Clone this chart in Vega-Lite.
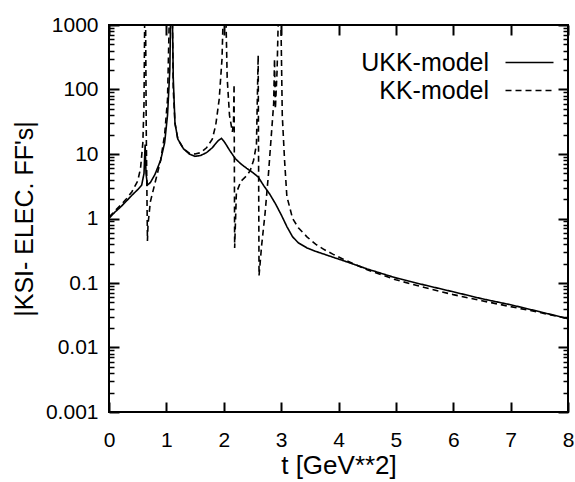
{
  "$schema": "https://vega.github.io/schema/vega-lite/v6.json",
  "width": 459,
  "height": 387,
  "autosize": "none",
  "padding": {"left": 109, "top": 25, "right": 7, "bottom": 70},
  "background": "white",
  "config": {
    "font": "Liberation Sans",
    "view": {"stroke": "black", "strokeWidth": 2},
    "axis": {"grid": false, "domain": false, "labelColor": "black", "titleColor": "black", "labelFont": "Liberation Sans", "titleFont": "Liberation Sans", "titleFontWeight": "normal"}
  },
  "data": {"values": [
    {"model": "UKK-model", "t": 0.0, "ff": 1.0},
    {"model": "UKK-model", "t": 0.1, "ff": 1.25},
    {"model": "UKK-model", "t": 0.2, "ff": 1.5},
    {"model": "UKK-model", "t": 0.3, "ff": 1.85},
    {"model": "UKK-model", "t": 0.4, "ff": 2.3},
    {"model": "UKK-model", "t": 0.5, "ff": 2.8},
    {"model": "UKK-model", "t": 0.57, "ff": 3.3},
    {"model": "UKK-model", "t": 0.61, "ff": 5},
    {"model": "UKK-model", "t": 0.63, "ff": 14},
    {"model": "UKK-model", "t": 0.645, "ff": 5},
    {"model": "UKK-model", "t": 0.67, "ff": 3.3},
    {"model": "UKK-model", "t": 0.72, "ff": 3.6},
    {"model": "UKK-model", "t": 0.8, "ff": 4.8},
    {"model": "UKK-model", "t": 0.9, "ff": 8},
    {"model": "UKK-model", "t": 0.97, "ff": 15},
    {"model": "UKK-model", "t": 1.02, "ff": 40},
    {"model": "UKK-model", "t": 1.06, "ff": 200},
    {"model": "UKK-model", "t": 1.08, "ff": 3000},
    {"model": "UKK-model", "t": 1.1, "ff": 3000},
    {"model": "UKK-model", "t": 1.12, "ff": 150},
    {"model": "UKK-model", "t": 1.15, "ff": 30},
    {"model": "UKK-model", "t": 1.2, "ff": 17},
    {"model": "UKK-model", "t": 1.3, "ff": 12},
    {"model": "UKK-model", "t": 1.4, "ff": 10},
    {"model": "UKK-model", "t": 1.5, "ff": 9.2},
    {"model": "UKK-model", "t": 1.6, "ff": 9.5},
    {"model": "UKK-model", "t": 1.7, "ff": 10.5},
    {"model": "UKK-model", "t": 1.8, "ff": 12.5},
    {"model": "UKK-model", "t": 1.9, "ff": 16},
    {"model": "UKK-model", "t": 1.96, "ff": 17.5},
    {"model": "UKK-model", "t": 2.02, "ff": 15},
    {"model": "UKK-model", "t": 2.1, "ff": 11.5},
    {"model": "UKK-model", "t": 2.2, "ff": 8.5},
    {"model": "UKK-model", "t": 2.3, "ff": 7},
    {"model": "UKK-model", "t": 2.4, "ff": 6},
    {"model": "UKK-model", "t": 2.5, "ff": 5.2},
    {"model": "UKK-model", "t": 2.6, "ff": 4.4},
    {"model": "UKK-model", "t": 2.7, "ff": 3.2},
    {"model": "UKK-model", "t": 2.8, "ff": 2.4},
    {"model": "UKK-model", "t": 2.9, "ff": 1.7},
    {"model": "UKK-model", "t": 3.0, "ff": 1.15},
    {"model": "UKK-model", "t": 3.1, "ff": 0.75},
    {"model": "UKK-model", "t": 3.2, "ff": 0.52},
    {"model": "UKK-model", "t": 3.3, "ff": 0.42},
    {"model": "UKK-model", "t": 3.45, "ff": 0.35},
    {"model": "UKK-model", "t": 3.6, "ff": 0.31},
    {"model": "UKK-model", "t": 3.8, "ff": 0.27},
    {"model": "UKK-model", "t": 4.0, "ff": 0.235},
    {"model": "UKK-model", "t": 4.2, "ff": 0.205},
    {"model": "UKK-model", "t": 4.5, "ff": 0.165},
    {"model": "UKK-model", "t": 5.0, "ff": 0.12},
    {"model": "UKK-model", "t": 5.5, "ff": 0.093},
    {"model": "UKK-model", "t": 6.0, "ff": 0.073},
    {"model": "UKK-model", "t": 6.5, "ff": 0.057},
    {"model": "UKK-model", "t": 7.0, "ff": 0.046},
    {"model": "UKK-model", "t": 7.5, "ff": 0.036},
    {"model": "UKK-model", "t": 8.0, "ff": 0.028},
    {"model": "KK-model", "t": 0.0, "ff": 1.05},
    {"model": "KK-model", "t": 0.1, "ff": 1.3},
    {"model": "KK-model", "t": 0.2, "ff": 1.6},
    {"model": "KK-model", "t": 0.3, "ff": 2.0},
    {"model": "KK-model", "t": 0.4, "ff": 2.6},
    {"model": "KK-model", "t": 0.5, "ff": 3.8},
    {"model": "KK-model", "t": 0.55, "ff": 6},
    {"model": "KK-model", "t": 0.59, "ff": 15},
    {"model": "KK-model", "t": 0.61, "ff": 60},
    {"model": "KK-model", "t": 0.625, "ff": 3000},
    {"model": "KK-model", "t": 0.635, "ff": 3000},
    {"model": "KK-model", "t": 0.65, "ff": 20},
    {"model": "KK-model", "t": 0.66, "ff": 3},
    {"model": "KK-model", "t": 0.67, "ff": 0.45},
    {"model": "KK-model", "t": 0.68, "ff": 0.8},
    {"model": "KK-model", "t": 0.72, "ff": 1.8},
    {"model": "KK-model", "t": 0.8, "ff": 3.5},
    {"model": "KK-model", "t": 0.9, "ff": 8},
    {"model": "KK-model", "t": 0.97, "ff": 20},
    {"model": "KK-model", "t": 1.02, "ff": 70},
    {"model": "KK-model", "t": 1.06, "ff": 3000},
    {"model": "KK-model", "t": 1.1, "ff": 3000},
    {"model": "KK-model", "t": 1.12, "ff": 100},
    {"model": "KK-model", "t": 1.15, "ff": 30},
    {"model": "KK-model", "t": 1.2, "ff": 17},
    {"model": "KK-model", "t": 1.3, "ff": 12},
    {"model": "KK-model", "t": 1.4, "ff": 10.3},
    {"model": "KK-model", "t": 1.5, "ff": 10},
    {"model": "KK-model", "t": 1.6, "ff": 10.5},
    {"model": "KK-model", "t": 1.7, "ff": 12.5},
    {"model": "KK-model", "t": 1.8, "ff": 17},
    {"model": "KK-model", "t": 1.86, "ff": 28},
    {"model": "KK-model", "t": 1.92, "ff": 70},
    {"model": "KK-model", "t": 1.97, "ff": 300},
    {"model": "KK-model", "t": 2.0, "ff": 3000},
    {"model": "KK-model", "t": 2.03, "ff": 3000},
    {"model": "KK-model", "t": 2.06, "ff": 150},
    {"model": "KK-model", "t": 2.1, "ff": 40},
    {"model": "KK-model", "t": 2.15, "ff": 22},
    {"model": "KK-model", "t": 2.17, "ff": 30},
    {"model": "KK-model", "t": 2.18, "ff": 120},
    {"model": "KK-model", "t": 2.19, "ff": 0.35},
    {"model": "KK-model", "t": 2.22, "ff": 2.5},
    {"model": "KK-model", "t": 2.3, "ff": 3.8},
    {"model": "KK-model", "t": 2.4, "ff": 4.6},
    {"model": "KK-model", "t": 2.46, "ff": 5.5},
    {"model": "KK-model", "t": 2.52, "ff": 8},
    {"model": "KK-model", "t": 2.57, "ff": 14},
    {"model": "KK-model", "t": 2.6, "ff": 340},
    {"model": "KK-model", "t": 2.615, "ff": 0.13},
    {"model": "KK-model", "t": 2.66, "ff": 0.38},
    {"model": "KK-model", "t": 2.72, "ff": 1.2},
    {"model": "KK-model", "t": 2.78, "ff": 5},
    {"model": "KK-model", "t": 2.83, "ff": 20},
    {"model": "KK-model", "t": 2.87, "ff": 60},
    {"model": "KK-model", "t": 2.885, "ff": 300},
    {"model": "KK-model", "t": 2.9, "ff": 50},
    {"model": "KK-model", "t": 2.93, "ff": 200},
    {"model": "KK-model", "t": 2.96, "ff": 3000},
    {"model": "KK-model", "t": 2.99, "ff": 3000},
    {"model": "KK-model", "t": 3.02, "ff": 40},
    {"model": "KK-model", "t": 3.06, "ff": 8},
    {"model": "KK-model", "t": 3.1, "ff": 2.2},
    {"model": "KK-model", "t": 3.2, "ff": 1.0},
    {"model": "KK-model", "t": 3.3, "ff": 0.72},
    {"model": "KK-model", "t": 3.45, "ff": 0.52},
    {"model": "KK-model", "t": 3.6, "ff": 0.4},
    {"model": "KK-model", "t": 3.75, "ff": 0.33},
    {"model": "KK-model", "t": 3.9, "ff": 0.28},
    {"model": "KK-model", "t": 4.1, "ff": 0.23},
    {"model": "KK-model", "t": 4.5, "ff": 0.16},
    {"model": "KK-model", "t": 5.0, "ff": 0.112},
    {"model": "KK-model", "t": 5.5, "ff": 0.085},
    {"model": "KK-model", "t": 6.0, "ff": 0.066},
    {"model": "KK-model", "t": 6.5, "ff": 0.053},
    {"model": "KK-model", "t": 7.0, "ff": 0.043},
    {"model": "KK-model", "t": 7.5, "ff": 0.035},
    {"model": "KK-model", "t": 8.0, "ff": 0.028}
  ]},
  "layer": [
    {
      "mark": {"type": "line", "clip": true, "color": "black", "strokeWidth": 1.6},
      "encoding": {
        "x": {"field": "t", "type": "quantitative",
          "scale": {"domain": [0, 8], "nice": false, "zero": false},
          "axis": {"orient": "bottom", "values": [0,1,2,3,4,5,6,7,8], "tickSize": -10, "tickColor": "black", "tickWidth": 2, "labelPadding": 27, "labelFontSize": 21, "labelFlush": false, "title": "t [GeV**2]", "titleFontSize": 26, "titlePadding": 2}},
        "y": {"field": "ff", "type": "quantitative",
          "scale": {"type": "log", "domain": [0.001, 1000], "nice": false},
          "axis": {"orient": "left", "values": [0.001, 0.01, 0.1, 1, 10, 100, 1000], "format": "~g",
            "tickSize": -10, "tickColor": "black", "tickWidth": 2, "labelPadding": 21, "labelFontSize": 21, "labelFlush": false, "labelOverlap": false,
            "title": "|KSI- ELEC. FF's|", "titleFontSize": 25, "titlePadding": 8}},
        "strokeDash": {"field": "model", "type": "nominal",
          "scale": {"domain": ["UKK-model", "KK-model"], "range": [[1, 0], [6, 4]]},
          "legend": {"orient": "none", "legendX": 408, "legendY": 25, "title": null, "padding": 0,
            "symbolType": "M-4,0H4", "symbolSize": 144, "symbolStrokeWidth": 1.3, "symbolStrokeColor": "black",
            "labelFontSize": 25, "labelAlign": "right", "labelOffset": -53, "labelColor": "black", "rowPadding": 2}}
      }
    },
    {
      "mark": {"type": "line", "opacity": 0},
      "encoding": {
        "x": {"field": "t", "type": "quantitative",
          "scale": {"domain": [0, 8], "nice": false, "zero": false},
          "axis": {"orient": "top", "values": [0,1,2,3,4,5,6,7,8], "tickSize": -10, "tickColor": "black", "tickWidth": 2, "labels": false, "title": null}},
        "y": {"field": "ff", "type": "quantitative",
          "scale": {"type": "log", "domain": [0.001, 1000], "nice": false},
          "axis": {"orient": "right", "values": [0.001, 0.01, 0.1, 1, 10, 100, 1000], "tickSize": -10, "tickColor": "black", "tickWidth": 2, "labels": false, "title": null}},
        "detail": {"field": "model", "type": "nominal"}
      }
    },
    {
      "mark": {"type": "line", "opacity": 0},
      "encoding": {
        "x": {"field": "t", "type": "quantitative", "scale": {"domain": [0, 8], "nice": false, "zero": false}, "axis": null},
        "y": {"field": "ff", "type": "quantitative",
          "scale": {"type": "log", "domain": [0.001, 1000], "nice": false},
          "axis": {"orient": "left",
            "values": [0.002,0.003,0.004,0.005,0.006,0.007,0.008,0.009,0.02,0.03,0.04,0.05,0.06,0.07,0.08,0.09,0.2,0.3,0.4,0.5,0.6,0.7,0.8,0.9,2,3,4,5,6,7,8,9,20,30,40,50,60,70,80,90,200,300,400,500,600,700,800,900],
            "tickSize": -5, "tickColor": "black", "tickWidth": 1.5, "labels": false, "title": null}},
        "detail": {"field": "model", "type": "nominal"}
      }
    },
    {
      "mark": {"type": "line", "opacity": 0},
      "encoding": {
        "x": {"field": "t", "type": "quantitative", "scale": {"domain": [0, 8], "nice": false, "zero": false}, "axis": null},
        "y": {"field": "ff", "type": "quantitative",
          "scale": {"type": "log", "domain": [0.001, 1000], "nice": false},
          "axis": {"orient": "right",
            "values": [0.002,0.003,0.004,0.005,0.006,0.007,0.008,0.009,0.02,0.03,0.04,0.05,0.06,0.07,0.08,0.09,0.2,0.3,0.4,0.5,0.6,0.7,0.8,0.9,2,3,4,5,6,7,8,9,20,30,40,50,60,70,80,90,200,300,400,500,600,700,800,900],
            "tickSize": -5, "tickColor": "black", "tickWidth": 1.5, "labels": false, "title": null}},
        "detail": {"field": "model", "type": "nominal"}
      }
    }
  ],
  "resolve": {"axis": {"x": "independent", "y": "independent"}}
}
